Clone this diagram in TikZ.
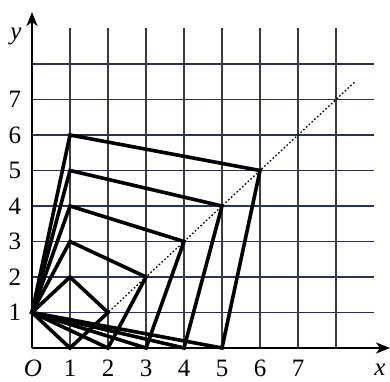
\documentclass[tikz,border=0pt]{standalone}
\usepackage{fontspec}
\setmainfont{Liberation Serif}
\usetikzlibrary{arrows.meta}
\definecolor{hgrid}{RGB}{45,45,95}
\definecolor{vgrid}{RGB}{60,60,60}
\tikzset{
  hline/.style={draw=hgrid,line width=1.3pt},
  vline/.style={draw=vgrid,line width=1.1pt},
  axis/.style={line width=2.4pt,-{Stealth[length=14pt,width=11pt,inset=4pt]}},
  sq/.style={line width=3.6pt,line join=miter},
  diag/.style={line width=1.3pt,dash pattern=on 1.6pt off 2.2pt},
  lab/.style={font=\fontsize{25}{27}\selectfont,inner sep=0pt}
}
\begin{document}
\begin{tikzpicture}[x=38pt,y=35.5pt]
\useasboundingbox (-32pt,-33pt) rectangle (358pt,348pt);
% grid
\foreach \i in {1,...,8}{
  \draw[hline] (0,\i) -- (9,\i);
  \draw[vline] (\i,0) -- (\i,9);
}
% dotted diagonal
\coordinate (d0) at (1,0);
\coordinate (d1) at (8.5,7.5);
\draw[diag] (d0) -- (d1);
% squares
\coordinate (A) at (0,1);
\foreach \n in {1,...,5}{
  \coordinate (P\n) at (\n,0);
  \coordinate (Q\n) at ({\n+1},\n);
  \coordinate (R\n) at (1,{\n+1});
  \draw[sq] (A) -- (P\n) -- (Q\n) -- (R\n) -- cycle;
}
% axes
\coordinate (o) at (0,0);
\coordinate (xe) at (358pt,0);
\coordinate (ye) at (0,336pt);
\draw[axis] (o) -- (xe);
\draw[axis] (o) -- (ye);
% labels
\foreach \i in {1,...,7}{
  \node[lab] (xl\i) at (\i,-20pt) {\i};
  \node[lab] (yl\i) at (-17pt,\i) {\i};
}
\node[lab] (ol) at (1pt,-20pt) {\textit{O}};
\node[lab] (xlab) at (348pt,-22pt) {\textit{x}};
\node[lab] (ylab) at (-16pt,312pt) {\textit{y}};
\end{tikzpicture}
\end{document}
